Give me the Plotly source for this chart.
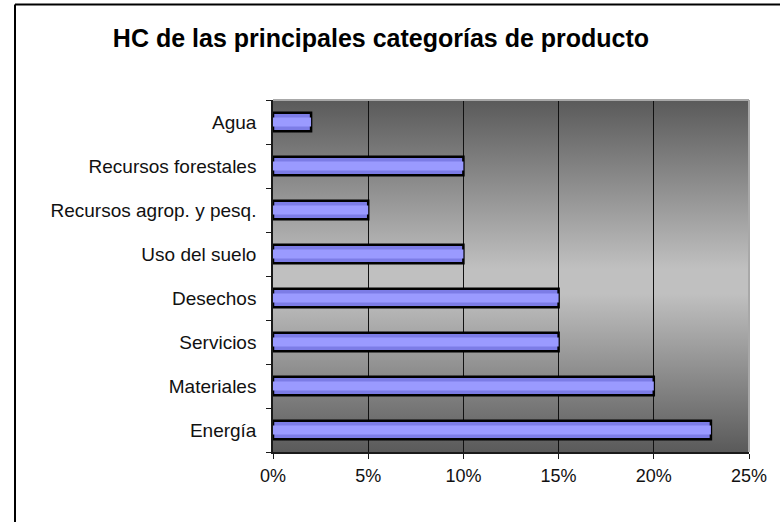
import base64
import plotly.graph_objects as go

categories = ["Energía", "Materiales", "Servicios", "Desechos", "Uso del suelo",
              "Recursos agrop. y pesq.", "Recursos forestales", "Agua"]
values = [0.23, 0.20, 0.15, 0.15, 0.10, 0.05, 0.10, 0.02]
tick_vals = [0, 0.05, 0.10, 0.15, 0.20, 0.25]
tick_text = ["0%", "5%", "10%", "15%", "20%", "25%"]
title_text = "HC de las principales categorías de producto"

W, H = 780, 522
L, R, T, B = 273, 31, 100, 70
pw, ph = W - L - R, H - T - B

def px_x(x):
    return (x - L) / pw

def px_y(y):
    return (H - B - y) / ph

svg = ('<svg xmlns="http://www.w3.org/2000/svg" width="100" height="100" preserveAspectRatio="none">'
       '<defs><linearGradient id="g" x1="0" y1="0" x2="0" y2="1">'
       '<stop offset="0" stop-color="#5a5a5a"/>'
       '<stop offset="0.48" stop-color="#c0c0c0"/>'
       '<stop offset="0.55" stop-color="#c0c0c0"/>'
       '<stop offset="1" stop-color="#5a5a5a"/>'
       '</linearGradient></defs>'
       '<rect width="100" height="100" fill="url(#g)"/></svg>')
bg_uri = "data:image/svg+xml;base64," + base64.b64encode(svg.encode()).decode()

fig = go.Figure()
fig.add_trace(go.Bar(
    y=categories, x=values, orientation="h", width=0.42,
    marker=dict(color="#7c7ce6", line=dict(color="#000000", width=2.5)),
    hoverinfo="x+y", showlegend=False,
))
fig.add_trace(go.Bar(
    y=categories, x=values, orientation="h", width=0.2,
    marker=dict(color="#9a9aff", line=dict(width=0)),
    hoverinfo="skip", showlegend=False,
))

fig.update_layout(
    width=W, height=H,
    margin=dict(l=L, r=R, t=T, b=B),
    paper_bgcolor="white",
    plot_bgcolor="rgba(0,0,0,0)",
    barmode="overlay",
    font=dict(family="Liberation Sans, Arial, sans-serif", size=18, color="#000000"),
    title=dict(text="<b>" + title_text + "</b>", x=381 / W, xanchor="center",
               y=1 - 38 / H, yanchor="middle",
               font=dict(size=25, family="Liberation Sans, Arial, sans-serif", color="#000000")),
    xaxis=dict(range=[0, 0.25], tickvals=tick_vals, ticktext=tick_text,
               showgrid=True, gridcolor="#111111", gridwidth=1,
               showline=True, linecolor="#1a1a1a", linewidth=1.5,
               ticks="outside", ticklen=5, tickcolor="#1a1a1a",
               tickfont=dict(size=18, color="#111111"), ticklabelstandoff=2,
               zeroline=False, fixedrange=True),
    yaxis=dict(categoryorder="array", categoryarray=categories,
               showgrid=False, showline=True, linecolor="#1a1a1a", linewidth=1.5,
               ticks="outside", ticklen=5, tickcolor="#1a1a1a", tickson="boundaries",
               tickfont=dict(size=19, color="#111111"),
               ticklabelstandoff=11, zeroline=False, fixedrange=True),
    images=[dict(source=bg_uri, xref="paper", yref="paper", x=0, y=1,
                 sizex=1, sizey=1, sizing="stretch", xanchor="left", yanchor="top",
                 layer="below")],
    shapes=[
        dict(type="line", xref="paper", yref="paper", x0=0, x1=1, y0=1, y1=1,
             line=dict(color="#a8a8a8", width=2)),
        dict(type="line", xref="paper", yref="paper", x0=1, x1=1, y0=0, y1=1,
             line=dict(color="#a8a8a8", width=2)),
        dict(type="line", xref="paper", yref="paper", x0=px_x(15), x1=px_x(15),
             y0=px_y(4.5), y1=px_y(540), line=dict(color="#000000", width=2)),
        dict(type="line", xref="paper", yref="paper", x0=px_x(15), x1=px_x(800),
             y0=px_y(4.5), y1=px_y(4.5), line=dict(color="#000000", width=2)),
    ],
)

fig.write_html("out.html", config={"displayModeBar": False},
               post_script="document.body.style.margin='0px';document.body.style.padding='0px';")
